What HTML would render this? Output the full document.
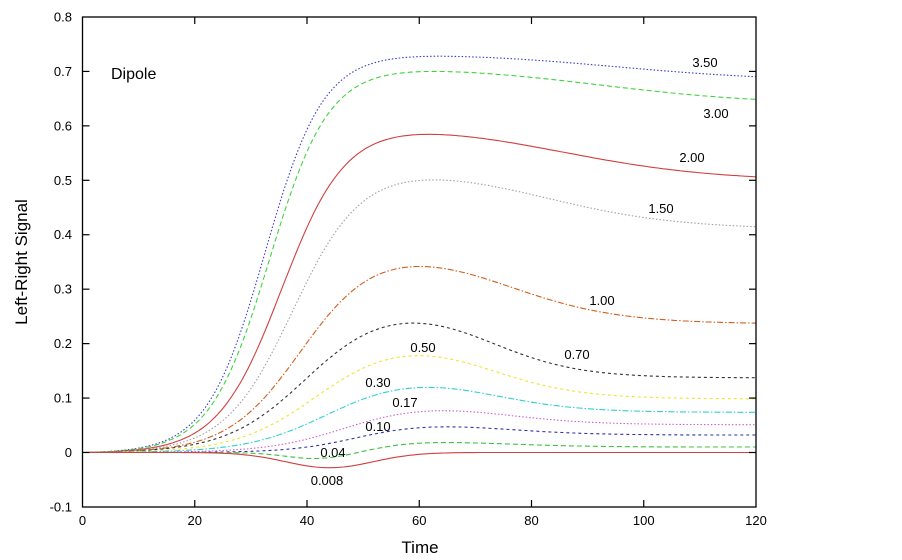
<!DOCTYPE html>
<html><head><meta charset="utf-8"><style>
html,body{margin:0;padding:0;background:#fff;}
svg{display:block;font-family:"Liberation Sans",sans-serif;}
</style></head><body>
<svg id="s" width="902" height="560" viewBox="0 0 902 560" xmlns="http://www.w3.org/2000/svg">
<rect width="902" height="560" fill="#fff"/>
<g id="curves" fill="none" stroke-width="1.1"></g>
<rect x="82.5" y="17" width="673.5" height="490" fill="none" stroke="#000" stroke-width="1.3"/>
<g stroke="#000" stroke-width="1.2" id="ticks"></g>
<g font-size="13" fill="#000" id="tl"></g>
<text x="420" y="553" font-size="17" text-anchor="middle">Time</text>
<text transform="translate(27,262) rotate(-90)" font-size="17" text-anchor="middle">Left-Right Signal</text>
<text x="111" y="79" font-size="16">Dipole</text>
<g font-size="13" text-anchor="middle">
<text x="705" y="67">3.50</text>
<text x="716" y="118">3.00</text>
<text x="692" y="162">2.00</text>
<text x="661" y="213">1.50</text>
<text x="602" y="305">1.00</text>
<text x="577" y="359">0.70</text>
<text x="423" y="352">0.50</text>
<text x="378" y="387">0.30</text>
<text x="405" y="407">0.17</text>
<text x="378" y="431">0.10</text>
<text x="333" y="457">0.04</text>
<text x="327" y="485">0.008</text>
</g>
</svg>
<script>
var X=function(t){return 82.5+t*5.6125;},Y=function(v){return 452.5-v*544.4;};
var ns="http://www.w3.org/2000/svg";
var tk=document.getElementById('ticks'),tl=document.getElementById('tl');
function el(p,n,a,txt){var e=document.createElementNS(ns,n);for(var k in a)e.setAttribute(k,a[k]);if(txt!==undefined)e.textContent=txt;p.appendChild(e);return e;}
for(var t=0;t<=120;t+=20){var x=X(t);if(t>0&&t<120){el(tk,'line',{x1:x,y1:507,x2:x,y2:500});el(tk,'line',{x1:x,y1:17,x2:x,y2:24});}
el(tl,'text',{x:x,y:525,'text-anchor':'middle'},String(t));}
for(var i=-1;i<=8;i++){var v=i/10,y=Y(v);if(i>-1&&i<8){el(tk,'line',{x1:82.5,y1:y,x2:89.5,y2:y});el(tk,'line',{x1:756,y1:y,x2:749,y2:y});}
el(tl,'text',{x:72,y:y+4.5,'text-anchor':'end'},i==0?'0':v.toFixed(1));}
function sg(z){return 1/(1+Math.exp(-z));}
var C=[
[0.737,32.5,5.2,0.054,95,15,0,0,1,'#3a3ad0','1.5 2'],
[0.713,33.3,5.3,0.073,92,15,0,0,1,'#3fd43f','5 3'],
[0.609,35.5,5.7,0.11,85,14,0,0,1,'#d04040',''],
[0.53,37.5,6.1,0.119,82,12,0,0,1,'#a0a0a0','1.5 2'],
[0.385,39,6.6,0.148,75,10,0,0,1,'#d06020','6 2 1.5 2'],
[0.281,40,7.2,0.143,72,8,0,0,1,'#333','3 3'],
[0.217,42,7.3,0.118,72,8,0,0,1,'#e8e830','3 3'],
[0.148,44,7.3,0.074,72,8,0,0,1,'#30d0d0','6 2 1.5 2'],
[0.094,47,7,0.043,74,8,0,0,1,'#d060d0','1.5 2'],
[0.057,49,6,0.025,74,8,0,0,1,'#3030b0','3 3'],
[0.022,53,4,0.012,75,8,0.012,42,8,'#40c040','5 3'],
[0.0,53,4,0,75,8,0.028,44,11,'#d04040','']
];
var g=document.getElementById('curves');
C.forEach(function(c){
 function f(t){return c[0]*sg((t-c[1])/c[2])-c[3]*sg((t-c[4])/c[5])-c[6]*Math.exp(-Math.pow((t-c[7])/c[8],2));}
 var f0=f(0),d='';
 for(var t=0;t<=120;t+=0.5){d+=(t?'L':'M')+X(t).toFixed(1)+','+Y(f(t)-f0).toFixed(1);}
 var a={d:d,stroke:c[9]};if(c[10])a['stroke-dasharray']=c[10];
 el(g,'path',a);
});
</script>
</body></html>
